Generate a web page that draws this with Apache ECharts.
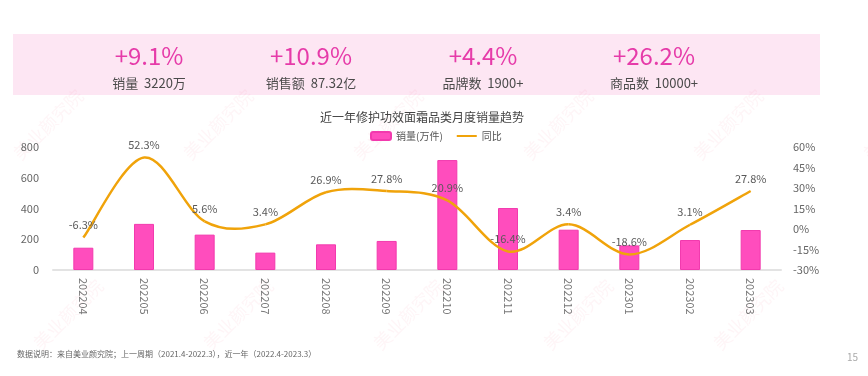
<!DOCTYPE html>
<html>
<head>
<meta charset="utf-8">
<script src="https://cdn.jsdelivr.net/npm/echarts@6/dist/echarts.min.js"></script>
<style>
  html, body { margin: 0; padding: 0; background: #fff; }
  #chart { width: 868px; height: 376px; }
</style>
</head>
<body>
<div id="chart"></div>
<script>
// ============ Data ============
const months = ['202204', '202205', '202206', '202207', '202208', '202209',
  '202210', '202211', '202212', '202301', '202302', '202303']
const sales = [145, 300, 230, 113, 167, 189, 715, 403, 262, 160, 195, 260]
const yoy = [-6.3, 52.3, 5.6, 3.4, 26.9, 27.8, 20.9, -16.4, 3.4, -18.6, 3.1, 27.8]

const kpiValues = ['+9.1%', '+10.9%', '+4.4%', '+26.2%']
const kpiLabels = ['销量  3220万', '销售额  87.32亿', '品牌数  1900+', '商品数  10000+']
const kpiCenters = [149, 311, 483, 654]

const FONT = '"Noto Sans CJK SC", "Noto Sans", sans-serif'
const LINE_COLOR = '#f0a30a'

// ============ Header + decorations ============
const graphics = [
  {
    type: 'rect', left: 13, top: 34, z: -10,
    shape: { width: 807, height: 61 },
    style: { fill: '#fde6f3' },
  },
]
kpiValues.forEach((v, i) => {
  graphics.push({
    type: 'text', x: kpiCenters[i], y: 56,
    style: { text: v, fill: '#e63ba9', font: '400 24px ' + FONT, align: 'center', verticalAlign: 'middle' },
  })
  graphics.push({
    type: 'text', x: kpiCenters[i], y: 83,
    style: { text: kpiLabels[i], fill: '#4a4a4a', font: '400 13px ' + FONT, align: 'center', verticalAlign: 'middle' },
  })
})

// faint watermark
for (let r = 0; r < 2; r++) {
  for (let c = 0; c < 6; c++) {
    graphics.push({
      type: 'text', x: 10 + c * 170 + r * 20, y: 150 + r * 190, rotation: Math.PI / 4, z: -5,
      style: { text: '美业颜究院', fill: 'rgba(235, 110, 140, 0.07)', font: '400 18px ' + FONT },
    })
  }
}

graphics.push({
  type: 'text', left: 17, top: 350,
  style: {
    text: '数据说明：来自美业颜究院；上一周期（2021.4-2022.3），近一年（2022.4-2023.3）',
    fill: '#666', font: '400 8px ' + FONT,
  },
})
graphics.push({
  type: 'text', left: 847, top: 352,
  style: { text: '15', fill: '#aaa', font: '400 10px ' + FONT },
})

// ============ Smoothed YoY line (uniform Catmull-Rom through the points) ============
function renderYoy(params, api) {
  const n = yoy.length
  const i = params.dataIndex
  const pt = (k) => {
    const j = Math.max(0, Math.min(n - 1, k))
    return api.coord([j, yoy[j]])
  }
  const p1 = pt(i)
  const children = []
  if (i < n - 1) {
    const p0 = pt(i - 1), p2 = pt(i + 1), p3 = pt(i + 2)
    children.push({
      type: 'bezierCurve',
      shape: {
        x1: p1[0], y1: p1[1], x2: p2[0], y2: p2[1],
        cpx1: p1[0] + (p2[0] - p0[0]) / 6, cpy1: p1[1] + (p2[1] - p0[1]) / 6,
        cpx2: p2[0] - (p3[0] - p1[0]) / 6, cpy2: p2[1] - (p3[1] - p1[1]) / 6,
      },
      style: { stroke: LINE_COLOR, lineWidth: 2.5, fill: null },
    })
  }
  children.push({
    type: 'text', x: p1[0], y: p1[1] - 7, z2: 10,
    style: {
      text: yoy[i] + '%', fill: '#595959', font: '400 11px ' + FONT,
      align: 'center', verticalAlign: 'bottom',
    },
  })
  return { type: 'group', children }
}

// ============ Chart ============
const chart = echarts.init(document.getElementById('chart'))
chart.setOption({
  animation: false,
  textStyle: { fontFamily: FONT },
  title: {
    text: '近一年修护功效面霜品类月度销量趋势',
    left: 417,
    textAlign: 'center',
    top: 106,
    textStyle: { fontSize: 12, fontWeight: 'normal', color: '#444', fontFamily: FONT },
  },
  legend: {
    top: 126,
    left: 365,
    itemWidth: 20,
    itemHeight: 8,
    itemGap: 14,
    textStyle: { fontSize: 10, color: '#555', fontFamily: FONT },
    data: [
      { name: '销量(万件)' },
      { name: '同比', icon: 'path://M0 0 L20 0 L20 2 L0 2 Z', itemStyle: { color: LINE_COLOR } },
    ],
  },
  grid: { left: 53, right: 87, top: 147, bottom: 106 },
  xAxis: {
    type: 'category',
    data: months,
    axisLine: { lineStyle: { color: '#e3e3e3', width: 2 } },
    axisTick: { show: false },
    axisLabel: { rotate: -90, color: '#777', fontSize: 11, margin: 8 },
  },
  yAxis: [
    {
      type: 'value',
      min: 0, max: 800, interval: 200,
      splitLine: { show: false },
      axisLine: { show: false },
      axisTick: { show: false },
      axisLabel: { color: '#666', fontSize: 11, margin: 14 },
    },
    {
      type: 'value',
      min: -30, max: 60, interval: 15,
      splitLine: { show: false },
      axisLine: { show: false },
      axisTick: { show: false },
      axisLabel: { color: '#666', fontSize: 11, margin: 12, formatter: '{value}%' },
    },
  ],
  series: [
    {
      name: '销量(万件)',
      type: 'bar',
      data: sales,
      barWidth: 20,
      itemStyle: { color: '#ff4dbd', borderColor: '#f23aae', borderWidth: 1 },
    },
    {
      name: '同比',
      type: 'custom',
      yAxisIndex: 1,
      data: yoy.map((v, i) => [i, v]),
      encode: { x: 0, y: 1 },
      itemStyle: { color: LINE_COLOR },
      renderItem: renderYoy,
      z: 3,
    },
  ],
  graphic: graphics,
})
</script>
</body>
</html>
